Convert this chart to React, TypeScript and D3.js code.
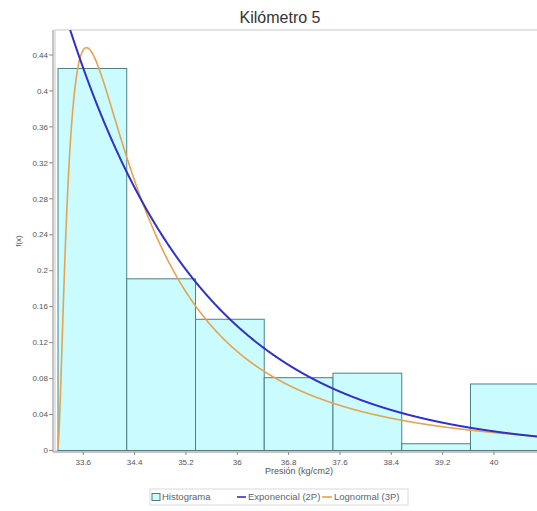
import React from "react";
import * as d3 from "d3";

// Histogram of pressure readings (density scale)
const BIN_EDGES = [33.206, 34.277, 35.349, 36.42, 37.491, 38.563, 39.634, 40.706];
const BIN_DENSITY = [0.425, 0.191, 0.146, 0.081, 0.086, 0.0075, 0.074];

// Fitted distributions
const EXP_LAMBDA = 0.4678;
const EXP_GAMMA = 33.396;
const LOGN_GAMMA = 33.19;
const LOGN_MU = 0.39;
const LOGN_SIGMA = 1.08;

const X_TICKS = [33.6, 34.4, 35.2, 36, 36.8, 37.6, 38.4, 39.2, 40];
const Y_TICKS = [0, 0.04, 0.08, 0.12, 0.16, 0.2, 0.24, 0.28, 0.32, 0.36, 0.4, 0.44];

const TITLE = "Kilómetro 5";
const X_LABEL = "Presión (kg/cm2)";
const Y_LABEL = "f(x)";
const LEGEND = ["Histograma", "Exponencial (2P)", "Lognormal (3P)"];

const W = 537;
const H = 511;
const FONT = "'Liberation Sans', Arial, sans-serif";

const X_DOMAIN: [number, number] = [33.128, 40.78];
const Y_DOMAIN: [number, number] = [0, 0.4678];

const expPdf = (x: number) =>
  EXP_LAMBDA * Math.exp(-EXP_LAMBDA * (x - EXP_GAMMA));

const lognPdf = (x: number) => {
  const t = x - LOGN_GAMMA;
  const z = (Math.log(t) - LOGN_MU) / LOGN_SIGMA;
  return Math.exp(-0.5 * z * z) / (t * LOGN_SIGMA * Math.sqrt(2 * Math.PI));
};

export default function App() {
  const left = 53;
  const right = 544;
  const top = 30;
  const bottom = 450.5;

  const x = d3.scaleLinear().domain(X_DOMAIN).range([left, right]);
  const y = d3.scaleLinear().domain(Y_DOMAIN).range([bottom, top]);

  // evaluate a density on a fine grid from `from` to the right edge
  const curve = (from: number, f: (v: number) => number) => {
    const xs = d3.range(from, X_DOMAIN[1] + 0.005, 0.005);
    return d3
      .line<number>()
      .x((v) => x(v))
      .y((v) => y(f(v)))(xs) as string;
  };

  const expPath = curve(EXP_GAMMA, expPdf);
  const lognPath = curve(BIN_EDGES[0], lognPdf);

  const fmt = (v: number) => (v === 0 ? "0" : String(+v.toFixed(2)));

  const legendY = 497;

  return (
    <div style={{ position: "absolute", left: 0, top: 0 }}>
      <svg width={W} height={H} style={{ display: "block", background: "#fff" }}>
        <defs>
          <clipPath id="plot-clip">
            <rect x={left} y={top} width={right - left} height={bottom - top} />
          </clipPath>
        </defs>

        <text
          x={280}
          y={23}
          textAnchor="middle"
          fontFamily={FONT}
          fontSize={16}
          fill="#333"
        >
          {TITLE}
        </text>

        {/* plot frame */}
        <rect
          x={left + 2}
          y={top}
          width={right - left}
          height={bottom - top}
          fill="none"
          stroke="#c8c8c8"
          strokeWidth={1}
        />

        {/* histogram bars */}
        <g>
          {BIN_DENSITY.map((d, i) => (
            <rect
              key={i}
              x={x(BIN_EDGES[i])}
              y={y(d)}
              width={x(BIN_EDGES[i + 1]) - x(BIN_EDGES[i])}
              height={y(0) - y(d)}
              fill="#cafbfe"
              stroke="#4d7f80"
              strokeWidth={1}
            />
          ))}
        </g>

        {/* fitted curves */}
        <g clipPath="url(#plot-clip)">
          <path d={lognPath} fill="none" stroke="#e4a452" strokeWidth={1.6} />
          <path d={expPath} fill="none" stroke="#3131c8" strokeWidth={2} />
        </g>

        {/* y axis */}
        <line x1={left} x2={left} y1={top} y2={bottom + 1.5} stroke="#8a8a8a" />
        {Y_TICKS.map((t) => (
          <g key={t}>
            <line x1={left - 4} x2={left} y1={y(t)} y2={y(t)} stroke="#8a8a8a" />
            <text
              x={left - 5}
              y={y(t)}
              dy="0.34em"
              textAnchor="end"
              fontFamily={FONT}
              fontSize={8}
              fill="#555"
            >
              {fmt(t)}
            </text>
          </g>
        ))}
        <text
          transform={`translate(21,241) rotate(-90)`}
          textAnchor="middle"
          fontFamily={FONT}
          fontSize={8}
          fill="#555"
        >
          {Y_LABEL}
        </text>

        {/* x axis */}
        <line x1={left} x2={W} y1={bottom + 1.5} y2={bottom + 1.5} stroke="#8a8a8a" />
        {X_TICKS.map((t) => (
          <g key={t}>
            <line x1={x(t)} x2={x(t)} y1={bottom + 1.5} y2={bottom + 4.5} stroke="#8a8a8a" />
            <text
              x={x(t)}
              y={465}
              textAnchor="middle"
              fontFamily={FONT}
              fontSize={8}
              fill="#555"
            >
              {t}
            </text>
          </g>
        ))}
        <text
          x={299}
          y={474}
          textAnchor="middle"
          fontFamily={FONT}
          fontSize={9}
          fill="#555"
        >
          {X_LABEL}
        </text>

        {/* legend */}
        <g fontFamily={FONT} fontSize={9.5} fill="#5a6470">
          <rect x={150} y={legendY - 8} width={258} height={16} fill="none" stroke="#dadada" />
          <rect x={152} y={legendY - 3.5} width={8} height={7} fill="#cafbfe" stroke="#4d7f80" />
          <text x={162} y={legendY} dy="0.34em">
            {LEGEND[0]}
          </text>
          <line x1={237} x2={246} y1={legendY} y2={legendY} stroke="#3131c8" strokeWidth={1.6} />
          <text x={248} y={legendY} dy="0.34em">
            {LEGEND[1]}
          </text>
          <line x1={322} x2={332} y1={legendY} y2={legendY} stroke="#e4a452" strokeWidth={1.6} />
          <text x={334} y={legendY} dy="0.34em">
            {LEGEND[2]}
          </text>
        </g>
      </svg>
    </div>
  );
}
